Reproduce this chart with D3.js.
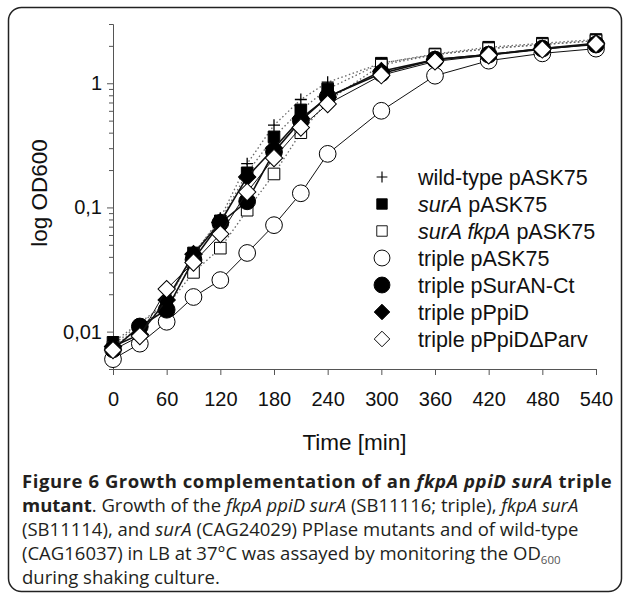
<!DOCTYPE html>
<html>
<head>
<meta charset="utf-8">
<script src="https://cdn.jsdelivr.net/npm/d3@7"></script>
<style>
  body { margin: 0; background: #fff; }
  svg text { font-family: "Liberation Sans", Arial, sans-serif; }
  .cap { font-family: "Open Sans", "Noto Sans", sans-serif; fill: #231f20; }
</style>
</head>
<body>
<div id="chart"></div>
<script>
// sampling times (min)
var timesTriple = [0, 30, 60, 90, 120, 150, 180, 210, 240, 300, 360, 420, 480, 540];
var timesOther = [0, 60, 90, 120, 150, 180, 210, 240, 300, 360, 420, 480, 540];

// OD600 values
var wildType = [0.0078, 0.017, 0.042, 0.082, 0.225, 0.46, 0.74, 1.02, 1.45, 1.7, 1.9, 2.05, 2.2];
var surA = [0.0082, 0.017, 0.043, 0.078, 0.19, 0.37, 0.61, 0.9, 1.45, 1.72, 1.95, 2.1, 2.25];
var surAfkpA = [0.0075, 0.016, 0.03, 0.047, 0.095, 0.186, 0.4, 0.72, 1.4, 1.7, 1.9, 2.05, 2.2];
var tripleASK = [0.006, 0.008, 0.012, 0.019, 0.026, 0.043, 0.072, 0.13, 0.27, 0.6, 1.15, 1.52, 1.74, 1.9];
var tripleSurAN = [0.0072, 0.011, 0.015, 0.038, 0.075, 0.112, 0.28, 0.5, 0.78, 1.2, 1.55, 1.7, 1.9, 2.05];
var triplePpiD = [0.0076, 0.0095, 0.018, 0.042, 0.076, 0.176, 0.3, 0.52, 0.77, 1.25, 1.55, 1.7, 1.9, 2.1];
var triplePpiDdP = [0.0071, 0.0092, 0.022, 0.036, 0.061, 0.133, 0.25, 0.44, 0.68, 1.16, 1.5, 1.68, 1.87, 2.07];

var xTicks = [0, 60, 120, 180, 240, 300, 360, 420, 480, 540];
var yMajor = [0.01, 0.1, 1];
var yMajorLabels = ["0,01", "0,1", "1"];
var yMinor = [0.005, 0.006, 0.007, 0.008, 0.009, 0.02, 0.03, 0.04, 0.05, 0.06, 0.07, 0.08, 0.09,
              0.2, 0.3, 0.4, 0.5, 0.6, 0.7, 0.8, 0.9, 2, 3];

var series = [
  {name: [["wild-type pASK75", false]], t: timesOther, v: wildType, sym: "plus", dotted: true},
  {name: [["surA", true], [" pASK75", false]], t: timesOther, v: surA, sym: "square", fill: "#000", dotted: true},
  {name: [["surA fkpA", true], [" pASK75", false]], t: timesOther, v: surAfkpA, sym: "square", fill: "#fff", dotted: true},
  {name: [["triple pASK75", false]], t: timesTriple, v: tripleASK, sym: "circle", fill: "#fff"},
  {name: [["triple pSurAN-Ct", false]], t: timesTriple, v: tripleSurAN, sym: "circle", fill: "#000", lw: 1.6},
  {name: [["triple pPpiD", false]], t: timesTriple, v: triplePpiD, sym: "diamond", fill: "#000", lw: 1.6},
  {name: [["triple pPpiD\u0394Parv", false]], t: timesTriple, v: triplePpiDdP, sym: "diamond", fill: "#fff"}
];

var W = 627, H = 600;
var svg = d3.select("#chart").append("svg").attr("width", W).attr("height", H);

// outer frame
svg.append("rect")
  .attr("x", 8.5).attr("y", 7.5)
  .attr("width", 613).attr("height", 584)
  .attr("rx", 13)
  .attr("fill", "none").attr("stroke", "#222").attr("stroke-width", 1.5);

var x = d3.scaleLinear().domain([0, 540]).range([113, 596]);
var y = d3.scaleLog().domain([0.005, 3]).range([369, 24]);

// axes
var gx = svg.append("g")
  .attr("transform", "translate(0," + y(0.005) + ")")
  .call(d3.axisBottom(x).tickValues(xTicks).tickSize(6).tickSizeOuter(0).tickPadding(17));
gx.selectAll("text").attr("font-size", 20).attr("fill", "#111");

var gyMinor = svg.append("g")
  .attr("transform", "translate(" + x(0) + ",0)")
  .call(d3.axisLeft(y).tickValues(yMinor).tickFormat("").tickSize(4).tickSizeOuter(0));
var gy = svg.append("g")
  .attr("transform", "translate(" + x(0) + ",0)")
  .call(d3.axisLeft(y).tickValues(yMajor).tickSize(6).tickSizeOuter(0).tickPadding(5)
    .tickFormat(function(d, i) { return yMajorLabels[i]; }));
gy.selectAll("text").attr("font-size", 20).attr("fill", "#111");
svg.selectAll(".domain, .tick line").attr("stroke", "#555");

svg.append("text")
  .attr("x", (x(0) + x(540)) / 2).attr("y", 450)
  .attr("text-anchor", "middle").attr("font-size", 22.5).attr("fill", "#111")
  .text("Time [min]");

svg.append("text")
  .attr("transform", "translate(47,193) rotate(-90)")
  .attr("text-anchor", "middle").attr("font-size", 22.5).attr("fill", "#111")
  .text("log OD600");

function symPath(sym) {
  if (sym === "circle") return d3.symbol(d3.symbolCircle, 220)();
  if (sym === "square") return d3.symbol(d3.symbolSquare, 135)();
  if (sym === "diamond") return d3.symbol(d3.symbolSquare, 150)();
  return "M-6,0H6M0,-6V6";
}
function drawMarker(g, s, cx, cy, scale) {
  var p = g.append("path")
    .attr("d", symPath(s.sym))
    .attr("transform", "translate(" + cx + "," + cy + ")" + (s.sym === "diamond" ? " rotate(45)" : "") + (scale ? " scale(" + scale + ")" : ""));
  if (s.sym === "plus") {
    p.attr("fill", "none").attr("stroke", "#000").attr("stroke-width", 1.3);
  } else {
    p.attr("fill", s.fill).attr("stroke", "#000").attr("stroke-width", 1);
  }
}

var line = d3.line();
series.forEach(function(s) {
  var pts = s.t.map(function(t, i) { return [x(t), y(s.v[i])]; });
  var g = svg.append("g");
  g.append("path")
    .attr("d", line(pts))
    .attr("fill", "none")
    .attr("stroke", s.dotted ? "#666" : "#111")
    .attr("stroke-width", s.dotted ? 1.3 : (s.lw || 1))
    .attr("stroke-dasharray", s.dotted ? "1.5,2.5" : null);
  pts.forEach(function(p) { drawMarker(g, s, p[0], p[1]); });
});

// legend
var leg = svg.append("g");
series.forEach(function(s, i) {
  var ly = 177 + i * 27;
  drawMarker(leg, s, 382, ly, s.sym === "circle" ? 0.95 : 0.9);
  var t = leg.append("text").attr("x", 418).attr("y", ly).attr("dy", "0.36em")
    .attr("font-size", 21.5).attr("fill", "#111");
  s.name.forEach(function(part) {
    t.append("tspan").attr("font-style", part[1] ? "italic" : null).text(part[0]);
  });
});

// caption
var capLines = [
  [["Figure 6 Growth complementation of an ", "b"], ["fkpA ppiD surA", "bi"], [" triple", "b"]],
  [["mutant", "b"], [". Growth of the ", ""], ["fkpA ppiD surA", "i"], [" (SB11116; triple), ", ""], ["fkpA surA", "i"]],
  [["(SB11114), and ", ""], ["surA", "i"], [" (CAG24029) PPlase mutants and of wild-type", ""]],
  [["(CAG16037) in LB at 37\u00b0C was assayed by monitoring the OD", ""], ["600", "sub"]],
  [["during shaking culture.", ""]]
];
capLines.forEach(function(parts, i) {
  var t = svg.append("text").attr("class", "cap")
    .attr("x", 22).attr("y", 488 + i * 24).attr("font-size", 18.5)
    .attr("letter-spacing", i === 0 ? 0.55 : null);
  parts.forEach(function(p) {
    var ts = t.append("tspan").text(p[0]);
    if (p[1].indexOf("b") >= 0) ts.attr("font-weight", "bold");
    if (p[1].indexOf("i") >= 0) ts.attr("font-style", "italic");
    if (p[1] === "sub") ts.attr("font-size", 11.5).attr("font-weight", 400).attr("fill", "#555").attr("dy", 4);
  });
});
</script>
</body>
</html>
